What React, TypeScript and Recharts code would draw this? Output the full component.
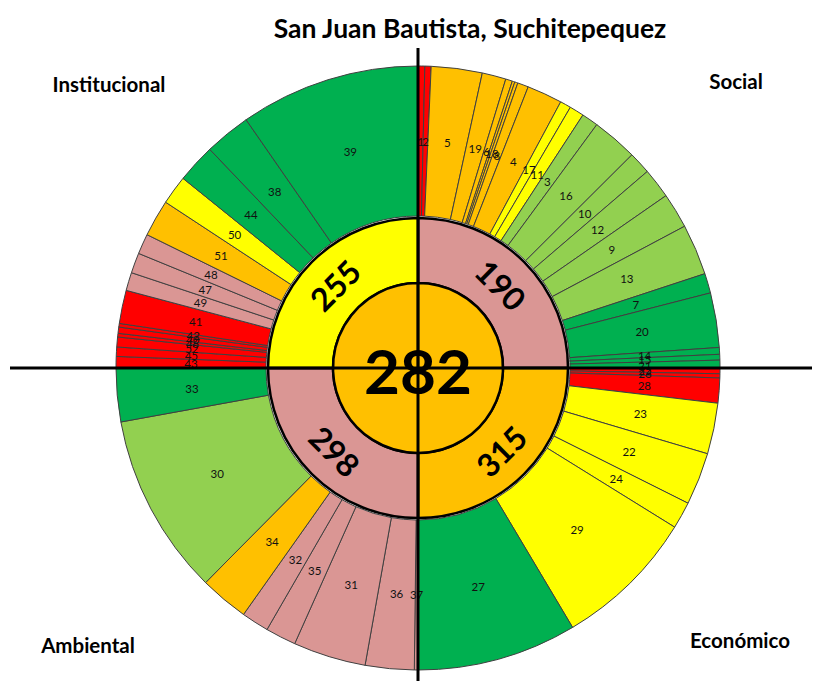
import React from "react";
import { PieChart, Pie, Cell } from "recharts";

// outer ring: item ids, angular share and rating level per quadrant (clockwise from top)
const socialIds = ["1", "2", "5", "19", "6", "", "18", "8", "4", "17", "11", "3", "16", "10", "12", "9", "13", "7", "20", "14", "15", "21"];
const socialValues = [1.3, 1.2, 9.8, 4.6, 1.3, 0.5, 0.6, 2.1, 6.8, 2.1, 2.8, 3.2, 8.8, 4.3, 5.8, 6.8, 9.8, 3.8, 10.5, 1.3, 1.1, 1.5];
const socialLevels = ["r", "r", "o", "o", "o", "o", "o", "o", "o", "y", "y", "lg", "lg", "lg", "lg", "lg", "lg", "g", "g", "g", "g", "g"];

const economicIds = ["25", "26", "28", "23", "22", "24", "29", "27"];
const economicValues = [1.1, 0.8, 4.8, 9.8, 10.1, 5.2, 27.4, 30.8];
const economicLevels = ["r", "r", "r", "y", "y", "y", "y", "g"];

const ambientalIds = ["37", "36", "31", "35", "32", "34", "30", "33"];
const ambientalValues = [0.7, 9.4, 14.0, 5.9, 5.3, 9.4, 35.0, 10.3];
const ambientalLevels = ["p", "p", "p", "p", "p", "o", "lg", "g"];

const institucionalIds = ["43", "45", "52", "46", "40", "42", "41", "49", "47", "48", "51", "50", "44", "38", "39"];
const institucionalValues = [2.2, 1.8, 1.9, 0.7, 1.2, 0.7, 6.4, 3.5, 3.9, 3.9, 7.1, 5.6, 7.5, 8.9, 34.7];
const institucionalLevels = ["r", "r", "r", "r", "r", "r", "r", "p", "p", "p", "o", "y", "g", "g", "g"];

// middle ring (clockwise from top)
const dimensions = ["Social", "Económico", "Ambiental", "Institucional"];
const dimensionScores = [190, 315, 298, 255];
const dimensionLevels = ["p", "o", "p", "y"];

const totalScore = 282;
const title = "San Juan Bautista, Suchitepequez";

const levelColor: Record<string, string> = {
  r: "#FF0000",
  o: "#FFC000",
  y: "#FFFF00",
  lg: "#92D050",
  g: "#00B050",
  p: "#DA9694",
};

const outerData = [
  ...socialIds.map((id, i) => ({ id, value: socialValues[i], level: socialLevels[i] })),
  ...economicIds.map((id, i) => ({ id, value: economicValues[i], level: economicLevels[i] })),
  ...ambientalIds.map((id, i) => ({ id, value: ambientalValues[i], level: ambientalLevels[i] })),
  ...institucionalIds.map((id, i) => ({ id, value: institucionalValues[i], level: institucionalLevels[i] })),
];

const middleData = dimensions.map((name, i) => ({
  name,
  value: 1,
  score: dimensionScores[i],
  level: dimensionLevels[i],
}));

const RADIAN = Math.PI / 180;
const CX = 418;
const CY = 368;
const FONT = "Lato, 'Open Sans', sans-serif";

const outerLabel = (props: any) => {
  const { cx, cy, midAngle, innerRadius, outerRadius, payload } = props;
  const r = (innerRadius + outerRadius) / 2;
  const x = cx + r * Math.cos(-midAngle * RADIAN);
  const y = cy + r * Math.sin(-midAngle * RADIAN);
  return (
    <text x={x} y={y} textAnchor="middle" dominantBaseline="central" fontSize={11.5} fontFamily={FONT} fill="#111">
      {payload.id}
    </text>
  );
};

const middleLabel = (props: any) => {
  const { cx, cy, midAngle, innerRadius, outerRadius, payload } = props;
  const r = (innerRadius + outerRadius) / 2;
  const x = cx + r * Math.cos(-midAngle * RADIAN);
  const y = cy + r * Math.sin(-midAngle * RADIAN);
  let rot = 90 - midAngle;
  while (rot > 90) rot -= 180;
  while (rot <= -90) rot += 180;
  return (
    <text
      x={x}
      y={y}
      textAnchor="middle"
      dominantBaseline="central"
      fontSize={32}
      fontWeight="bold"
      fontFamily={FONT}
      fill="#000"
      transform={`rotate(${rot} ${x} ${y})`}
    >
      {payload.score}
    </text>
  );
};

export default function App() {
  return (
    <div style={{ position: "absolute", left: 0, top: 0, width: 819, height: 681, background: "#fff" }}>
      <PieChart width={819} height={681} margin={{ top: 0, right: 0, bottom: 0, left: 0 }}>
        <Pie
          data={outerData}
          dataKey="value"
          cx={CX}
          cy={CY}
          innerRadius={152}
          outerRadius={302}
          startAngle={90}
          endAngle={-270}
          stroke="#404040"
          strokeWidth={1}
          label={outerLabel}
          labelLine={false}
          isAnimationActive={false}
        >
          {outerData.map((d, i) => (
            <Cell key={i} fill={levelColor[d.level]} />
          ))}
        </Pie>
        <Pie
          data={middleData}
          dataKey="value"
          cx={CX}
          cy={CY}
          innerRadius={85}
          outerRadius={150}
          startAngle={90}
          endAngle={-270}
          stroke="#000"
          strokeWidth={2.5}
          label={middleLabel}
          labelLine={false}
          isAnimationActive={false}
        >
          {middleData.map((d, i) => (
            <Cell key={i} fill={levelColor[d.level]} />
          ))}
        </Pie>
        <Pie
          data={[{ name: "Total", value: totalScore }]}
          dataKey="value"
          cx={CX}
          cy={CY}
          innerRadius={0}
          outerRadius={85}
          startAngle={90}
          endAngle={-270}
          stroke="#000"
          strokeWidth={2.5}
          fill={levelColor.o}
          isAnimationActive={false}
        />
      </PieChart>
      <svg width={819} height={681} style={{ position: "absolute", left: 0, top: 0, pointerEvents: "none" }}>
        <line x1={10} y1={CY} x2={812} y2={CY} stroke="#000" strokeWidth={3} />
        <line x1={CX} y1={48} x2={CX} y2={681} stroke="#000" strokeWidth={3} />
        <text x={CX} y={CY + 2} textAnchor="middle" dominantBaseline="central" fontSize={62} fontWeight="bold" fontFamily={FONT}>
          {totalScore}
        </text>
        <text x={470} y={38} textAnchor="middle" fontSize={26.5} fontWeight="bold" fontFamily={FONT}>
          {title}
        </text>
        <g fontSize={20.5} fontWeight="bold" fontFamily={FONT} textAnchor="middle">
          <text x={109} y={92}>{dimensions[3]}</text>
          <text x={736} y={89}>{dimensions[0]}</text>
          <text x={88} y={653}>{dimensions[2]}</text>
          <text x={740} y={648}>{dimensions[1]}</text>
        </g>
      </svg>
    </div>
  );
}
